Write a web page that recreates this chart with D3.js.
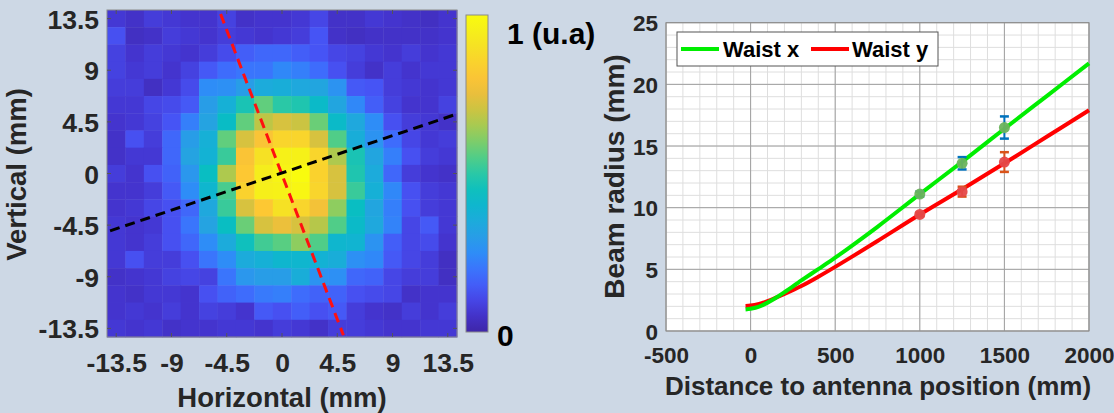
<!DOCTYPE html>
<html>
<head>
<meta charset="utf-8">
<script src="https://cdn.jsdelivr.net/npm/d3@7"></script>
<style>
html,body{margin:0;padding:0;background:#cdd8e5;}
svg{display:block;font-family:"Liberation Sans",Arial,sans-serif;font-weight:bold;}
</style>
</head>
<body>
<svg id="c" width="1114" height="413"></svg>
<script>
// ---------- DATA ----------
// Beam intensity map (rows top -> bottom, y = 13.5 ... -13.5 mm; cols x = -13.5 ... 13.5 mm), step 1.5 mm
const intensity = [
 [0.07,0.05,0.08,0.07,0.06,0.06,0.09,0.05,0.06,0.06,0.07,0.10,0.05,0.05,0.07,0.06,0.05,0.04,0.06],
 [0.12,0.04,0.05,0.08,0.07,0.06,0.08,0.07,0.06,0.07,0.08,0.13,0.05,0.04,0.05,0.05,0.05,0.05,0.06],
 [0.09,0.06,0.08,0.07,0.06,0.08,0.11,0.15,0.17,0.17,0.15,0.13,0.10,0.09,0.07,0.06,0.08,0.06,0.07],
 [0.09,0.07,0.08,0.06,0.09,0.14,0.18,0.20,0.20,0.24,0.22,0.18,0.12,0.08,0.05,0.08,0.06,0.07,0.07],
 [0.08,0.08,0.04,0.07,0.11,0.25,0.26,0.30,0.35,0.36,0.34,0.33,0.27,0.14,0.13,0.08,0.07,0.06,0.07],
 [0.07,0.07,0.10,0.11,0.14,0.30,0.37,0.47,0.57,0.50,0.48,0.42,0.33,0.24,0.15,0.09,0.06,0.06,0.09],
 [0.06,0.07,0.09,0.13,0.22,0.32,0.43,0.57,0.68,0.72,0.70,0.58,0.42,0.34,0.25,0.12,0.08,0.07,0.05],
 [0.05,0.12,0.08,0.17,0.30,0.37,0.57,0.72,0.80,0.86,0.86,0.72,0.55,0.36,0.27,0.18,0.10,0.07,0.08],
 [0.05,0.07,0.07,0.17,0.32,0.38,0.52,0.80,0.90,0.96,0.96,0.86,0.66,0.47,0.33,0.22,0.12,0.08,0.07],
 [0.08,0.06,0.12,0.16,0.28,0.44,0.66,0.82,0.94,0.97,1.00,0.85,0.72,0.48,0.35,0.17,0.08,0.06,0.05],
 [0.06,0.06,0.08,0.14,0.25,0.40,0.54,0.85,0.95,0.96,0.98,0.86,0.72,0.52,0.37,0.24,0.12,0.08,0.07],
 [0.06,0.07,0.10,0.12,0.17,0.34,0.52,0.72,0.82,0.90,0.86,0.78,0.62,0.44,0.33,0.22,0.12,0.08,0.07],
 [0.07,0.06,0.07,0.12,0.20,0.32,0.44,0.58,0.72,0.76,0.72,0.67,0.55,0.42,0.34,0.23,0.10,0.14,0.07],
 [0.07,0.06,0.08,0.12,0.17,0.25,0.35,0.45,0.53,0.56,0.62,0.55,0.40,0.39,0.27,0.15,0.10,0.11,0.06],
 [0.07,0.12,0.08,0.08,0.12,0.20,0.25,0.35,0.37,0.40,0.40,0.38,0.36,0.26,0.24,0.14,0.10,0.08,0.04],
 [0.05,0.06,0.07,0.09,0.10,0.09,0.20,0.28,0.30,0.30,0.36,0.27,0.26,0.17,0.16,0.10,0.08,0.08,0.04],
 [0.06,0.05,0.07,0.07,0.06,0.12,0.16,0.18,0.21,0.22,0.18,0.16,0.16,0.12,0.11,0.10,0.05,0.06,0.06],
 [0.06,0.07,0.06,0.08,0.06,0.09,0.08,0.06,0.14,0.12,0.15,0.12,0.14,0.08,0.06,0.05,0.08,0.06,0.08],
 [0.07,0.06,0.07,0.05,0.06,0.06,0.07,0.07,0.06,0.08,0.07,0.05,0.08,0.08,0.07,0.06,0.06,0.07,0.07]
];
const mapTicks = [-13.5,-9,-4.5,0,4.5,9,13.5];
const mapTickLabels = ["-13.5","-9","-4.5","0","4.5","9","13.5"];
const redAxisLine = [[-5.0,13.9],[5.0,-14.1]];
const blackAxisLine = [[-14.0,-5.0],[14.25,5.19]];
const colorbarLabels = ["1 (u.a)","0"];

// Beam radius fits
const fitZ    = [-30, 0, 50, 100, 150, 200, 300, 400, 500, 600, 750, 1000, 1250, 1500, 1750, 2000];
const waistX  = [1.75,1.8,1.97,2.3,2.7,3.15,4.1,5.02,5.95,6.93,8.45,11.1,13.72,16.4,19.05,21.7];
const waistY  = [2.03,2.06,2.2,2.42,2.7,3.0,3.65,4.4,5.2,6.03,7.3,9.45,11.5,13.6,15.75,17.9];
// Measurements
const measZ     = [1000, 1250, 1500];
const measX     = [11.1, 13.6, 16.5];
const measXErr  = [0.2, 0.5, 0.9];
const measY     = [9.45, 11.3, 13.7];
const measYErr  = [0.15, 0.4, 0.8];
const seriesNames = ["Waist x","Waist y"];
const beamXTicks = [-500,0,500,1000,1500,2000];
const beamYTicks = [0,5,10,15,20,25];

// ---------- PARULA ----------
const parulaStops = ["#3e26a8","#4435d0","#4752f4","#3d6ffd","#2e8df7","#27a1e3","#14b1d5","#08bec3","#2ac8a6","#5ace81","#93cd5c","#c3c543","#e9bf3c","#fec534","#f7da29","#f5ec1d","#f9fb0e"];
const parula = d3.scaleLinear()
  .domain(parulaStops.map((d,i)=>i/(parulaStops.length-1)))
  .range(parulaStops).interpolate(d3.interpolateRgb).clamp(true);

const svg = d3.select("#c");
const tickColor = "#262626";
const FF = "Liberation Sans, Arial";

// ---------- LEFT: heat map ----------
const xH = d3.scaleLinear([-14.25,14.25],[107,457]);
const yH = d3.scaleLinear([-14.25,14.25],[337,10]);
const cells = [];
intensity.forEach((row,r)=>row.forEach((v,c)=>cells.push({x:-13.5+1.5*c, y:13.5-1.5*r, v})));
const gH = svg.append("g");
gH.selectAll("rect.cell").data(cells).join("rect")
  .attr("x",d=>xH(d.x-0.75)).attr("y",d=>yH(d.y+0.75))
  .attr("width",d=>xH(d.x+0.75)-xH(d.x-0.75)+0.4)
  .attr("height",d=>yH(d.y-0.75)-yH(d.y+0.75)+0.4)
  .attr("fill",d=>parula(d.v));
gH.append("rect").attr("x",xH(-14.25)).attr("y",yH(14.25))
  .attr("width",xH(14.25)-xH(-14.25)).attr("height",yH(-14.25)-yH(14.25))
  .attr("fill","none").attr("stroke","#8a8a8a").attr("stroke-width",1);
mapTicks.forEach(t=>{
  gH.append("line").attr("x1",xH(-14.25)).attr("x2",xH(-14.25)+4).attr("y1",yH(t)).attr("y2",yH(t)).attr("stroke","#555");
  gH.append("line").attr("x1",xH(14.25)).attr("x2",xH(14.25)-4).attr("y1",yH(t)).attr("y2",yH(t)).attr("stroke","#555");
  gH.append("line").attr("y1",yH(-14.25)).attr("y2",yH(-14.25)-4).attr("x1",xH(t)).attr("x2",xH(t)).attr("stroke","#555");
  gH.append("line").attr("y1",yH(14.25)).attr("y2",yH(14.25)+4).attr("x1",xH(t)).attr("x2",xH(t)).attr("stroke","#555");
});
const axXH = d3.axisBottom(xH).tickValues(mapTicks).tickFormat((d,i)=>mapTickLabels[i]).tickSize(0).tickPadding(0);
const axYH = d3.axisLeft(yH).tickValues(mapTicks).tickFormat((d,i)=>mapTickLabels[i]).tickSize(0).tickPadding(0);
const gxh = svg.append("g").attr("transform","translate(0,348)").call(axXH);
gxh.select(".domain").remove();
gxh.selectAll("text").attr("dy","0").attr("y",24).attr("font-size",26.5).attr("font-weight","bold").attr("fill",tickColor).attr("font-family",FF);
const gyh = svg.append("g").attr("transform","translate(99,0)").call(axYH);
gyh.select(".domain").remove();
gyh.selectAll("text").attr("dy","0.36em").attr("x",0).attr("font-size",26.5).attr("font-weight","bold").attr("fill",tickColor).attr("font-family",FF);

const lineH = d3.line().x(d=>xH(d[0])).y(d=>yH(d[1]));
gH.append("path").attr("d",lineH(redAxisLine)).attr("stroke","#ff1010").attr("stroke-width",3)
  .attr("stroke-dasharray","10,6").attr("fill","none");
gH.append("path").attr("d",lineH(blackAxisLine)).attr("stroke","#000").attr("stroke-width",3)
  .attr("stroke-dasharray","10,6").attr("fill","none");

svg.append("text").attr("x",282).attr("y",407).attr("text-anchor","middle")
  .attr("font-size",27.5).attr("fill",tickColor).text("Horizontal (mm)");
svg.append("text").attr("transform","translate(26,174.5) rotate(-90)").attr("text-anchor","middle")
  .attr("font-size",27.5).attr("fill",tickColor).text("Vertical (mm)");

// colorbar
const cbY = d3.scaleLinear([0,1],[332,15]);
const defs = svg.append("defs");
const grad = defs.append("linearGradient").attr("id","parg").attr("x1",0).attr("x2",0).attr("y1",1).attr("y2",0);
d3.range(0,1.0001,0.05).forEach(t=>grad.append("stop").attr("offset",t).attr("stop-color",parula(t)));
svg.append("rect").attr("x",466).attr("y",cbY(1)).attr("width",22).attr("height",cbY(0)-cbY(1))
  .attr("fill","url(#parg)").attr("stroke","#8a8a8a").attr("stroke-width",1);
svg.append("text").attr("x",507).attr("y",44).attr("font-size",30).attr("fill","#000").text(colorbarLabels[0]);
svg.append("text").attr("x",497).attr("y",346).attr("font-size",30).attr("fill","#000").text(colorbarLabels[1]);

// ---------- RIGHT: beam radius ----------
const xR = d3.scaleLinear([-500,2000],[666,1089]);
const yR = d3.scaleLinear([0,25],[331,22.7]);
const gR = svg.append("g");
gR.append("rect").attr("x",xR(-500)).attr("y",yR(25)).attr("width",xR(2000)-xR(-500)).attr("height",yR(0)-yR(25)).attr("fill","#fff");
const minorX = d3.range(-500,2001,100), minorY = d3.range(0,25.01,1);
gR.selectAll("line.mx").data(minorX).join("line").attr("x1",d=>xR(d)).attr("x2",d=>xR(d)).attr("y1",yR(0)).attr("y2",yR(25)).attr("stroke","#dedede").attr("stroke-width",1);
gR.selectAll("line.my").data(minorY).join("line").attr("y1",d=>yR(d)).attr("y2",d=>yR(d)).attr("x1",xR(-500)).attr("x2",xR(2000)).attr("stroke","#dedede").attr("stroke-width",1);
gR.selectAll("line.Mx").data(beamXTicks).join("line").attr("x1",d=>xR(d)).attr("x2",d=>xR(d)).attr("y1",yR(0)).attr("y2",yR(25)).attr("stroke","#a0a0a0").attr("stroke-width",1);
gR.selectAll("line.My").data(beamYTicks).join("line").attr("y1",d=>yR(d)).attr("y2",d=>yR(d)).attr("x1",xR(-500)).attr("x2",xR(2000)).attr("stroke","#a0a0a0").attr("stroke-width",1);
gR.append("rect").attr("x",xR(-500)).attr("y",yR(25)).attr("width",xR(2000)-xR(-500)).attr("height",yR(0)-yR(25)).attr("fill","none").attr("stroke","#8a8a8a");

const axXR = d3.axisBottom(xR).tickValues(beamXTicks).tickFormat(d=>String(d)).tickSize(0).tickPadding(0);
const axYR = d3.axisLeft(yR).tickValues(beamYTicks).tickFormat(d=>String(d)).tickSize(0).tickPadding(0);
const gxr = svg.append("g").attr("transform","translate(0,340)").call(axXR);
gxr.select(".domain").remove();
gxr.selectAll("text").attr("dy","0").attr("y",23).attr("font-size",22.5).attr("font-weight","bold").attr("fill",tickColor).attr("font-family",FF);
const gyr = svg.append("g").attr("transform","translate(658,0)").call(axYR);
gyr.select(".domain").remove();
gyr.selectAll("text").attr("dy","0.36em").attr("x",0).attr("font-size",22.5).attr("font-weight","bold").attr("fill",tickColor).attr("font-family",FF);

svg.append("text").attr("x",878).attr("y",395).attr("text-anchor","middle").attr("font-size",26).attr("fill",tickColor).text("Distance to antenna position (mm)");
svg.append("text").attr("transform","translate(624,176.5) rotate(-90)").attr("text-anchor","middle").attr("font-size",28).attr("fill",tickColor).text("Beam radius (mm)");

const lineR = d3.line().x(d=>xR(d[0])).y(d=>yR(d[1])).curve(d3.curveCatmullRom.alpha(0.5));
gR.append("path").attr("d",lineR(fitZ.map((z,i)=>[z,waistY[i]]))).attr("stroke","#ff0000").attr("stroke-width",4).attr("fill","none");
gR.append("path").attr("d",lineR(fitZ.map((z,i)=>[z,waistX[i]]))).attr("stroke","#00ee00").attr("stroke-width",4).attr("fill","none");

function errBars(vals, errs, color){
  measZ.forEach((z,i)=>{
    const x = xR(z), y1 = yR(vals[i]-errs[i]), y2 = yR(vals[i]+errs[i]);
    gR.append("line").attr("x1",x).attr("x2",x).attr("y1",y1).attr("y2",y2).attr("stroke",color).attr("stroke-width",2);
    [y1,y2].forEach(y=>gR.append("line").attr("x1",x-4.5).attr("x2",x+4.5).attr("y1",y).attr("y2",y).attr("stroke",color).attr("stroke-width",2.5));
  });
}
errBars(measX, measXErr, "#0072bd");
errBars(measY, measYErr, "#d95319");
gR.selectAll("circle.mx").data(measZ).join("circle").attr("cx",d=>xR(d)).attr("cy",(d,i)=>yR(measX[i])).attr("r",5.5).attr("fill","#6cb35c").attr("fill-opacity",0.95);
gR.selectAll("circle.my").data(measZ).join("circle").attr("cx",d=>xR(d)).attr("cy",(d,i)=>yR(measY[i])).attr("r",5.5).attr("fill","#e54848").attr("fill-opacity",0.95);

// legend
const lg = svg.append("g");
lg.append("rect").attr("x",677).attr("y",32).attr("width",261).attr("height",34).attr("fill","#fff").attr("stroke","#555").attr("stroke-width",1);
lg.append("line").attr("x1",681).attr("x2",719).attr("y1",49).attr("y2",49).attr("stroke","#00ee00").attr("stroke-width",4);
lg.append("text").attr("x",723).attr("y",57).attr("font-size",22).attr("fill","#000").text(seriesNames[0]);
lg.append("line").attr("x1",811).attr("x2",849).attr("y1",49).attr("y2",49).attr("stroke","#ff0000").attr("stroke-width",4);
lg.append("text").attr("x",852).attr("y",57).attr("font-size",22).attr("fill","#000").text(seriesNames[1]);
</script>
</body>
</html>
